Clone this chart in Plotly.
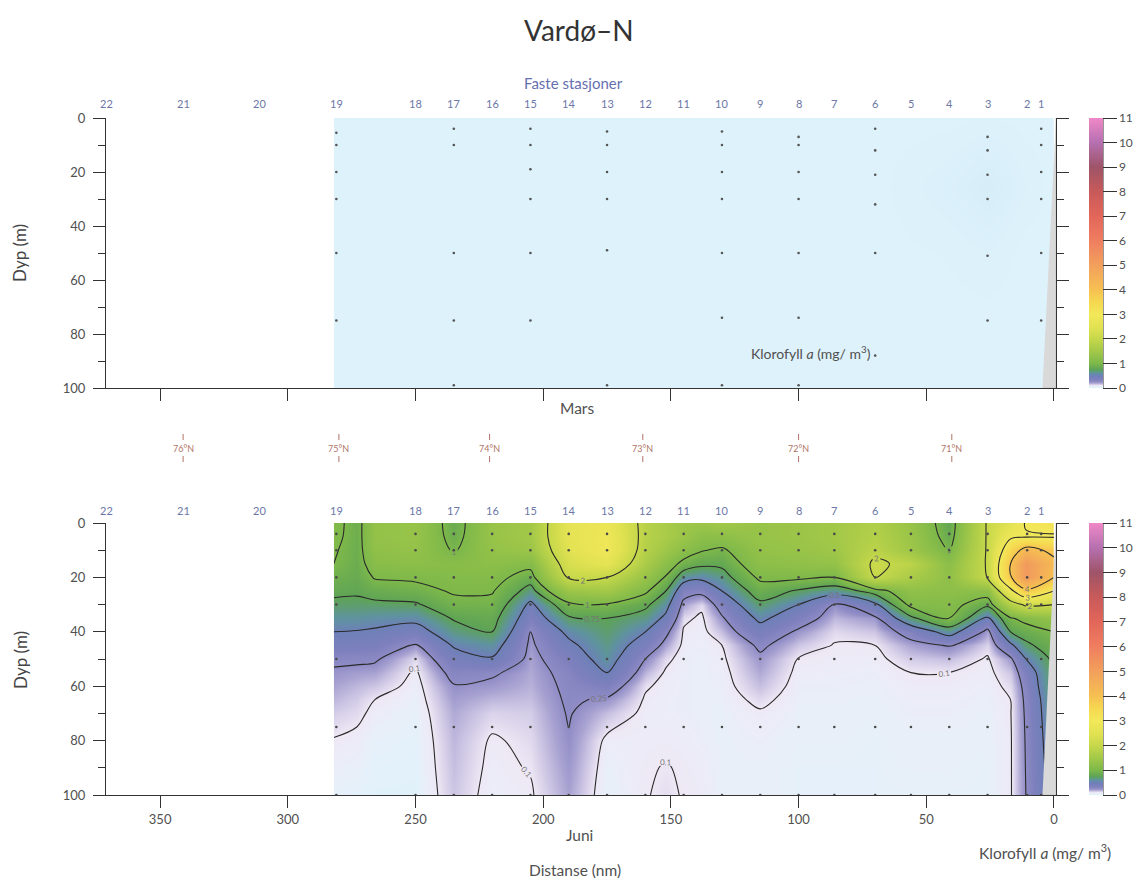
import plotly.graph_objects as go

# ---------------- data ----------------
station_names = [str(s) for s in range(22, 0, -1)]
station_nm = [371, 341, 311, 281, 250, 235, 220, 205, 190, 175, 160, 145,
              130, 115, 100, 86, 70, 56, 41, 26, 10.5, 5]

lat_labels = ['76°N', '75°N', '74°N', '73°N', '72°N', '71°N']
lat_nm = [341, 280, 221, 161, 100, 40]

x_ticks = [350, 300, 250, 200, 150, 100, 50, 0]
depth_ticks = [0, 20, 40, 60, 80, 100]
depth_minor = [10, 30, 50, 70, 90]
cbar_ticks = list(range(0, 12))
contour_levels = [0.1, 0.25, 0.5, 0.75, 1, 2, 3, 4]

# bottom topography wedge near the coast
land_nm = [-0.8, -0.8, 4.5]
land_depth = [0, 100, 100]

# ---- Juni: chlorophyll a (mg/m3) profiles ----
juni_depth = [0, 5, 10, 15, 20, 25, 30, 35, 40, 45, 50, 55, 60, 65, 70, 80, 90, 100]
juni_nm = [282, 273, 266, 250, 235, 220, 205, 190, 175, 160, 152, 145, 138, 130,
           115, 100, 86, 70, 56, 41, 26, 17, 11, 0]
j282 = [1.10, 1.08, 1.03, 1.00, 0.90, 0.80, 0.70, 0.60, 0.50, 0.40, 0.28, 0.23, 0.20, 0.17, 0.14, 0.095, 0.07, 0.05]
j273 = [0.88, 0.88, 0.88, 0.87, 0.84, 0.78, 0.70, 0.60, 0.49, 0.39, 0.28, 0.21, 0.17, 0.14, 0.12, 0.08, 0.06, 0.04]
j266 = [1.30, 1.30, 1.25, 1.15, 1.02, 0.85, 0.70, 0.58, 0.47, 0.38, 0.27, 0.20, 0.15, 0.10, 0.08, 0.05, 0.04, 0.03]
j250 = [1.35, 1.35, 1.30, 1.20, 1.05, 0.90, 0.72, 0.56, 0.40, 0.23, 0.12, 0.085, 0.07, 0.06, 0.05, 0.04, 0.035, 0.03]
j235 = [0.85, 0.88, 0.97, 1.15, 1.10, 1.03, 0.92, 0.77, 0.65, 0.52, 0.40, 0.30, 0.24, 0.21, 0.19, 0.17, 0.16, 0.15]
j220 = [1.35, 1.35, 1.30, 1.20, 1.10, 1.02, 0.93, 0.83, 0.75, 0.60, 0.48, 0.27, 0.22, 0.17, 0.13, 0.09, 0.08, 0.07]
j205 = [1.50, 1.50, 1.40, 1.10, 0.87, 0.65, 0.45, 0.35, 0.25, 0.22, 0.20, 0.19, 0.18, 0.16, 0.14, 0.12, 0.105, 0.09]
j190 = [2.60, 2.60, 2.50, 2.30, 2.05, 1.40, 0.93, 0.72, 0.55, 0.45, 0.36, 0.30, 0.28, 0.27, 0.26, 0.24, 0.22, 0.20]
j175 = [2.80, 2.90, 2.90, 2.60, 2.00, 1.50, 0.97, 0.75, 0.70, 0.65, 0.60, 0.50, 0.35, 0.23, 0.16, 0.08, 0.06, 0.05]
j160 = [1.80, 1.80, 1.75, 1.60, 1.35, 1.05, 0.80, 0.65, 0.50, 0.38, 0.25, 0.17, 0.11, 0.09, 0.08, 0.08, 0.09, 0.095]
j152 = [1.60, 1.60, 1.45, 1.20, 0.97, 0.75, 0.58, 0.45, 0.29, 0.20, 0.12, 0.09, 0.08, 0.075, 0.075, 0.085, 0.105, 0.115]
j145 = [1.45, 1.40, 1.20, 0.90, 0.60, 0.33, 0.20, 0.12, 0.09, 0.08, 0.07, 0.07, 0.07, 0.07, 0.07, 0.08, 0.09, 0.095]
j138 = [1.40, 1.20, 1.02, 0.80, 0.55, 0.30, 0.12, 0.085, 0.075, 0.07, 0.065, 0.065, 0.065, 0.065, 0.065, 0.07, 0.08, 0.085]
j130 = [1.50, 1.20, 0.95, 0.80, 0.65, 0.50, 0.33, 0.23, 0.16, 0.10, 0.085, 0.075, 0.07, 0.065, 0.06, 0.06, 0.06, 0.06]
j115 = [1.35, 1.35, 1.30, 1.20, 1.05, 0.87, 0.70, 0.55, 0.40, 0.28, 0.22, 0.19, 0.16, 0.12, 0.09, 0.07, 0.06, 0.06]
j100 = [1.40, 1.40, 1.35, 1.25, 1.05, 0.72, 0.50, 0.35, 0.22, 0.15, 0.095, 0.08, 0.07, 0.065, 0.06, 0.055, 0.05, 0.05]
j86 = [1.50, 1.50, 1.45, 1.30, 1.00, 0.60, 0.24, 0.17, 0.12, 0.095, 0.085, 0.075, 0.07, 0.065, 0.06, 0.055, 0.05, 0.05]
j70 = [1.70, 1.75, 1.85, 2.10, 2.00, 0.85, 0.45, 0.22, 0.15, 0.10, 0.08, 0.07, 0.065, 0.06, 0.055, 0.05, 0.05, 0.05]
j56 = [1.35, 1.40, 1.45, 1.85, 1.60, 1.25, 1.07, 0.70, 0.32, 0.20, 0.14, 0.10, 0.085, 0.075, 0.07, 0.06, 0.055, 0.05]
j41 = [0.80, 0.85, 0.98, 1.20, 1.25, 1.20, 1.12, 1.03, 0.60, 0.26, 0.16, 0.10, 0.085, 0.075, 0.07, 0.06, 0.055, 0.05]
j26 = [2.05, 2.05, 2.05, 2.05, 2.02, 1.20, 0.80, 0.45, 0.20, 0.13, 0.09, 0.08, 0.07, 0.065, 0.06, 0.055, 0.05, 0.05]
j17 = [2.50, 2.90, 3.50, 4.00, 3.90, 2.80, 1.70, 0.97, 0.75, 0.45, 0.22, 0.15, 0.12, 0.10, 0.095, 0.09, 0.09, 0.09]
j11 = [3.05, 2.95, 4.30, 5.20, 5.20, 3.80, 2.10, 1.10, 0.85, 0.70, 0.50, 0.35, 0.30, 0.28, 0.27, 0.26, 0.255, 0.25]
j0 = [3.20, 2.95, 3.80, 4.20, 4.00, 3.00, 2.00, 1.30, 1.00, 0.88, 0.80, 0.76, 0.75, 0.70, 0.68, 0.65, 0.62, 0.60]
juni_profiles = [j282, j273, j266, j250, j235, j220, j205, j190, j175, j160, j152, j145,
                 j138, j130, j115, j100, j86, j70, j56, j41, j26, j17, j11, j0]

# ---- Mars: chlorophyll a (mg/m3) profiles ----
mars_depth = [0, 25, 50, 75, 100]
mars_nm = [282, 250, 220, 190, 160, 130, 100, 70, 41, 26, 11, 0]
m282 = [0.02, 0.02, 0.02, 0.02, 0.02]
m250 = [0.02, 0.02, 0.02, 0.02, 0.02]
m220 = [0.02, 0.02, 0.02, 0.02, 0.02]
m190 = [0.02, 0.02, 0.02, 0.02, 0.02]
m160 = [0.02, 0.02, 0.02, 0.02, 0.02]
m130 = [0.02, 0.02, 0.02, 0.02, 0.02]
m100 = [0.02, 0.02, 0.02, 0.02, 0.02]
m70 = [0.02, 0.02, 0.02, 0.02, 0.02]
m41 = [0.02, 0.012, 0.018, 0.02, 0.02]
m26 = [0.018, 0.005, 0.015, 0.02, 0.02]
m11 = [0.02, 0.015, 0.02, 0.02, 0.02]
m0 = [0.02, 0.02, 0.02, 0.02, 0.02]
mars_profiles = [m282, m250, m220, m190, m160, m130, m100, m70, m41, m26, m11, m0]

# sample points
mars_dot_nm = [281, 235, 205, 175, 130, 100, 70, 26, 5]
mars_dot_depths = [[5.5, 10, 20, 30, 50, 75], [4, 10, 50, 75, 99], [4, 10, 19, 30, 50, 75],
                   [5, 10, 20, 30, 49, 99], [5, 10, 20, 30, 50, 74, 99], [7, 10, 20, 30, 50, 74, 99],
                   [4, 12, 21, 32, 50, 88], [7, 12, 21, 30, 51, 75], [4, 10, 20, 30, 50, 75]]
juni_dot_nm = station_nm[3:]
juni_dot_depths = [4, 10, 20, 30, 50, 75, 100]

# colour scale (value -> colour)
cs_values = [0, 0.02, 0.06, 0.1, 0.15, 0.2, 0.25, 0.35, 0.5, 0.6, 0.75, 1.0, 1.5, 2.0,
             2.5, 3.0, 3.5, 4.0, 5.0, 6.0, 7.0, 8.0, 9.0, 10.0, 11.0]
cs_colors = ['#d4ecf8', '#def2fb', '#e9eff9', '#eee8f5', '#cdc6e4', '#a9a3d2', '#8f8cc6',
             '#7e80bd', '#6e80b8', '#5f93a0', '#5ea356', '#7db84a', '#a3c848', '#c6d84a',
             '#e2e252', '#f2e85a', '#f6d850', '#f6c052', '#f2a05c', '#f07e60', '#e2665a',
             '#c85a5a', '#9e5468', '#b670b0', '#f088c8']
ZMAX = 11.0
colorscale = [[v / ZMAX, c] for v, c in zip(cs_values, cs_colors)]

# ---------------- figure ----------------
# reference pixel frame of the plot areas
REF_L, REF_R, REF_T, REF_B = 106, 1056, 118, 795
OFF = 8  # page body margin of the html output
W, H = 1145, 879
ML = REF_L - OFF
MT = REF_T - OFF
MR = W - (REF_R - OFF)
MB = H - (REF_B - OFF)


def py(px):  # reference pixel y -> paper y
    return (REF_B - px) / (REF_B - REF_T)


def pxx(px):  # reference pixel x -> paper x
    return (px - REF_L) / (REF_R - REF_L)


top_dom = [py(388), 1.0]
bot_dom = [0.0, py(523)]

FONT = 'Lato, "Open Sans", sans-serif'
AXC = '#333333'
TXT = '#505050'

z_juni = [[prof[i] for prof in juni_profiles] for i in range(len(juni_depth))]
z_mars = [[prof[i] for prof in mars_profiles] for i in range(len(mars_depth))]

fig = go.Figure()


def cbar(dom):
    return dict(x=pxx(1089), xanchor='left', xpad=0, y=dom[0], yanchor='bottom',
                len=dom[1] - dom[0], lenmode='fraction', ypad=0, thickness=14,
                thicknessmode='pixels', outlinewidth=0, tickmode='array',
                tickvals=cbar_ticks, ticks='outside', ticklen=14, tickwidth=1,
                tickcolor=AXC, tickfont=dict(size=12, color=TXT, family=FONT))


# Mars fill
fig.add_trace(go.Contour(x=mars_nm, y=mars_depth, z=z_mars, xaxis='x', yaxis='y',
                         colorscale=colorscale, zmin=0, zmax=ZMAX,
                         contours=dict(coloring='heatmap', showlines=False),
                         line=dict(width=0), colorbar=cbar(top_dom), hoverinfo='skip'))
# Juni fill
fig.add_trace(go.Contour(x=juni_nm, y=juni_depth, z=z_juni, xaxis='x2', yaxis='y2',
                         colorscale=colorscale, zmin=0, zmax=ZMAX,
                         contours=dict(coloring='heatmap', showlines=False),
                         line=dict(width=0), colorbar=cbar(bot_dom), hoverinfo='skip'))
# Juni contour lines
for lev in contour_levels:
    fig.add_trace(go.Contour(x=juni_nm, y=juni_depth, z=z_juni, xaxis='x2', yaxis='y2',
                             autocontour=False,
                             contours=dict(start=lev, end=lev, size=lev, coloring='none',
                                           showlabels=True, labelformat='.2~f',
                                           labelfont=dict(size=8, color='#777777', family=FONT)),
                             line=dict(color='#2a2a2a', width=1.1, smoothing=1),
                             showscale=False, hoverinfo='skip'))

# land wedges
for xa, ya in (('x', 'y'), ('x2', 'y2')):
    fig.add_trace(go.Scatter(x=land_nm, y=land_depth, xaxis=xa, yaxis=ya, mode='lines',
                             fill='toself', fillcolor='#d9d9d9',
                             line=dict(color='#bdbdbd', width=0.6), hoverinfo='skip',
                             showlegend=False))

# sample dots
mx, my = [], []
for nm, ds in zip(mars_dot_nm, mars_dot_depths):
    for d in ds:
        mx.append(nm)
        my.append(d)
fig.add_trace(go.Scatter(x=mx, y=my, xaxis='x', yaxis='y', mode='markers',
                         marker=dict(size=2.6, color='#555555'), showlegend=False,
                         hoverinfo='skip'))
jx, jy = [], []
for nm in juni_dot_nm:
    for d in juni_dot_depths:
        jx.append(nm)
        jy.append(d)
fig.add_trace(go.Scatter(x=jx, y=jy, xaxis='x2', yaxis='y2', mode='markers',
                         marker=dict(size=2.6, color='#4a4a4a'), showlegend=False,
                         hoverinfo='skip'))

xr = [371.2, -0.8]
xcommon = dict(range=xr, showgrid=False, zeroline=False, showline=True, linecolor=AXC,
               linewidth=1, ticks='outside', ticklen=12, tickwidth=1, tickcolor=AXC,
               tickmode='array', tickvals=x_ticks,
               tickfont=dict(size=13, color=TXT, family=FONT))
ycommon = dict(range=[100, 0], showgrid=False, zeroline=False, showline=True, linecolor=AXC,
               linewidth=1, ticks='outside', ticklen=12, tickwidth=1, tickcolor=AXC,
               mirror='ticks', tickmode='array', tickvals=depth_ticks,
               ticklabelstandoff=5,
               minor=dict(tickmode='array', tickvals=depth_minor, ticks='outside',
                          ticklen=7, tickwidth=1, tickcolor=AXC),
               tickfont=dict(size=13, color=TXT, family=FONT))

fig.update_layout(
    width=W, height=H, margin=dict(l=ML, r=MR, t=MT, b=MB),
    paper_bgcolor='white', plot_bgcolor='white', showlegend=False,
    font=dict(family=FONT, color=TXT),
    xaxis=dict(xcommon, anchor='y', domain=[0, 1], showticklabels=False),
    yaxis=dict(ycommon, anchor='x', domain=top_dom),
    xaxis2=dict(xcommon, anchor='y2', domain=[0, 1], showticklabels=True),
    yaxis2=dict(ycommon, anchor='x2', domain=bot_dom),
)


def note(text, x, y, size, color=TXT, xref='paper', xanchor='center', angle=0):
    return dict(text=text, xref=xref, yref='paper', x=x, y=y, xanchor=xanchor,
                yanchor='middle', textangle=angle, showarrow=False,
                font=dict(size=size, color=color, family=FONT))


ann = []
ann.append(note('Vardø–N', pxx(579), py(30), 28, '#333333'))
ann.append(note('Faste stasjoner', pxx(573), py(83), 15, '#6670b0'))
for nm, name in zip(station_nm, station_names):
    for xr_, ypx in (('x', 103), ('x2', 510)):
        ann.append(note(name, nm, py(ypx), 11, '#6b77a6', xref=xr_))
for nm, lab in zip(lat_nm, lat_labels):
    ann.append(note(lab, nm, py(448), 9, '#b07466', xref='x2'))
ann.append(note('Mars', pxx(577), py(408), 15.5))
ann.append(note('Juni', pxx(579), py(835), 15.5))
ann.append(note('Distanse (nm)', pxx(575), py(870), 15.5))
for ypx in (253, 660):
    ann.append(note('Dyp (m)', pxx(20), py(ypx), 17, '#444444', angle=-90))
ann.append(note('Klorofyll <i>a</i> (mg/ m<sup>3</sup>)', pxx(749), py(352), 14,
                xanchor='left'))
ann.append(note('Klorofyll <i>a</i> (mg/ m<sup>3</sup>)', pxx(977), py(852), 15.5,
                xanchor='left'))
fig.update_layout(annotations=ann)

shapes = []
for nm in lat_nm:
    shapes.append(dict(type='line', xref='x2', yref='paper', x0=nm, x1=nm,
                       y0=py(440), y1=py(434), line=dict(color='#b07466', width=1)))
    shapes.append(dict(type='line', xref='x2', yref='paper', x0=nm, x1=nm,
                       y0=py(462), y1=py(456), line=dict(color='#b07466', width=1)))
# colour bar axis lines
for dom in (top_dom, bot_dom):
    shapes.append(dict(type='line', xref='paper', yref='paper', x0=pxx(1103), x1=pxx(1103),
                       y0=dom[0], y1=dom[1], line=dict(color=AXC, width=1)))
fig.update_layout(shapes=shapes)

fig.write_html('out.html')
